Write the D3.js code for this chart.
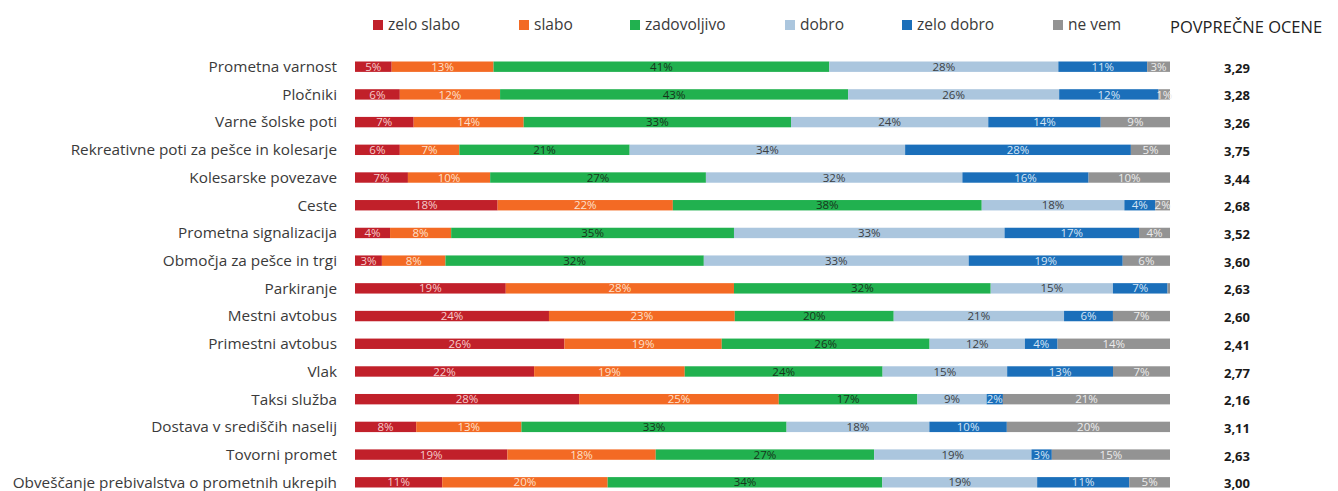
<!DOCTYPE html>
<html>
<head>
<meta charset="utf-8">
<script src="https://cdn.jsdelivr.net/npm/d3@7"></script>
<style>
  html, body { margin: 0; padding: 0; background: #fff; }
  svg { display: block; }
  text { font-family: "Open Sans", "Noto Sans", sans-serif; }
</style>
</head>
<body>
<script>
const categories = [
  "Prometna varnost",
  "Pločniki",
  "Varne šolske poti",
  "Rekreativne poti za pešce in kolesarje",
  "Kolesarske povezave",
  "Ceste",
  "Prometna signalizacija",
  "Območja za pešce in trgi",
  "Parkiranje",
  "Mestni avtobus",
  "Primestni avtobus",
  "Vlak",
  "Taksi služba",
  "Dostava v središčih naselij",
  "Tovorni promet",
  "Obveščanje prebivalstva o prometnih ukrepih"
];
const seriesNames = ["zelo slabo", "slabo", "zadovoljivo", "dobro", "zelo dobro", "ne vem"];
const zeloSlabo   = [4.5, 5.5, 7.2, 5.5, 6.5, 17.5, 4.3, 3.3, 18.5, 23.8, 25.7, 22.0, 27.5, 7.5, 18.7, 10.7];
const slabo       = [12.5, 12.3, 13.5, 7.3, 10.1, 21.5, 7.5, 7.8, 28.0, 22.8, 19.3, 18.5, 24.5, 12.9, 18.2, 20.3];
const zadovoljivo = [41.2, 42.7, 32.8, 20.9, 26.5, 37.9, 34.7, 31.7, 31.5, 19.5, 25.5, 24.3, 17.0, 32.5, 26.8, 33.7];
const dobro       = [28.1, 25.9, 24.2, 33.8, 31.5, 17.5, 33.2, 32.5, 15.0, 20.9, 11.7, 15.3, 8.5, 17.5, 19.3, 19.0];
const zeloDobro   = [10.9, 12.2, 13.8, 27.7, 15.5, 3.8, 16.5, 18.9, 6.7, 6.0, 4.0, 13.0, 2.0, 9.5, 2.5, 11.3];
const neVem       = [2.8, 1.4, 8.5, 4.8, 10.0, 1.8, 3.8, 5.8, 0.3, 7.0, 13.8, 7.0, 20.5, 20.0, 14.5, 5.0];
const averages    = ["3,29","3,28","3,26","3,75","3,44","2,68","3,52","3,60","2,63","2,60","2,41","2,77","2,16","3,11","2,63","3,00"];
const averagesTitle = "POVPREČNE OCENE";

const colors = ["#c1202a", "#f36a24", "#21b14f", "#abc6de", "#1b6fba", "#939393"];
const labelColors = ["#f5cccc", "#fde0cc", "#17351c", "#3b3f44", "#d5e5f5", "#ececec"];

const W = 1338, H = 491;
const svg = d3.select("body").append("svg").attr("width", W).attr("height", H);

const seriesData = [zeloSlabo, slabo, zadovoljivo, dobro, zeloDobro, neVem];
const rows = categories.map((c, i) => {
  const vals = seriesData.map(s => s[i]);
  const tot = d3.sum(vals);
  let acc = 0;
  return { cat: c, segs: vals.map((v, k) => { const s = { k, v, x0: acc / tot * 100, x1: (acc + v) / tot * 100 }; acc += v; return s; }) };
});

const x = d3.scaleLinear().domain([0, 100]).range([355, 1170]);
const y = d3.scalePoint().domain(categories).range([66.7, 482.3]);
const barH = 10.4;

// category labels
svg.append("g").selectAll("text").data(categories).join("text")
  .attr("x", 337).attr("y", d => y(d)).attr("dy", "0.35em")
  .attr("text-anchor", "end").attr("font-size", 15.3).attr("fill", "#3a3a3a")
  .text(d => d);

const g = svg.append("g").selectAll("g").data(rows).join("g");
g.selectAll("rect").data(d => d.segs.map(s => ({ ...s, cat: d.cat }))).join("rect")
  .attr("x", d => x(d.x0)).attr("width", d => x(d.x1) - x(d.x0))
  .attr("y", d => y(d.cat) - barH / 2).attr("height", barH)
  .attr("fill", d => colors[d.k]);
g.selectAll("text").data(d => d.segs.filter(s => s.v >= 1).map(s => ({ ...s, cat: d.cat }))).join("text")
  .attr("x", d => (x(d.x0) + x(d.x1)) / 2).attr("y", d => y(d.cat)).attr("dy", "0.36em")
  .attr("text-anchor", "middle").attr("font-size", 11.5).attr("fill", d => labelColors[d.k])
  .text(d => Math.round(d.v) + "%");

// averages
svg.append("g").selectAll("text").data(averages).join("text")
  .attr("x", 1237).attr("y", (d, i) => y(categories[i]) + 1.5).attr("dy", "0.35em")
  .attr("text-anchor", "middle").attr("font-size", 13).attr("font-weight", "bold").attr("fill", "#1a1a1a")
  .text(d => d);
svg.append("text").attr("x", 1170).attr("y", 27).attr("dy", "0.35em")
  .attr("font-size", 16.5).attr("fill", "#222").text(averagesTitle);

// legend
const legendPos = [373, 519, 630, 785, 902, 1053];
const lg = svg.append("g").selectAll("g").data(seriesNames).join("g")
  .attr("transform", (d, i) => `translate(${legendPos[i]},0)`);
lg.append("rect").attr("x", 0).attr("y", 20).attr("width", 10).attr("height", 10).attr("fill", (d, i) => colors[i]);
lg.append("text").attr("x", 15).attr("y", 25).attr("dy", "0.35em").attr("font-size", 15.5).attr("fill", "#3a3a3a").text(d => d);
</script>
</body>
</html>
